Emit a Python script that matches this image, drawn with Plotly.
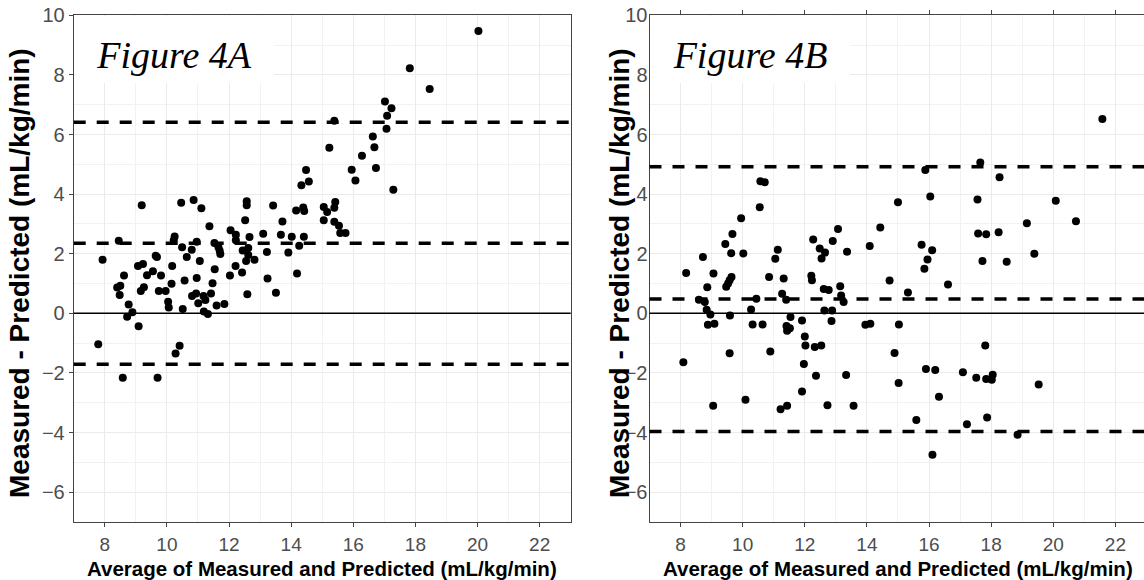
import plotly.graph_objects as go

W, H = 1144, 580

# ---------------- data ----------------
# Figure 4A : average of measured & predicted vs difference
a_avg = [9.19, 10.46, 10.86, 11.11, 12.57, 12.57, 12.52, 11.37, 12.05, 12.22, 12.22, 12.66, 8.45,
         10.25, 10.22, 10.96, 11.53, 11.66, 11.70, 11.72, 10.49, 10.80, 10.64, 11.06, 12.44, 12.62,
         12.62, 12.55, 12.82, 7.93, 9.07, 9.23, 9.64, 9.68, 9.55, 9.36, 9.81, 10.17, 8.62, 8.40,
         8.48, 8.50, 9.26, 9.16, 9.74, 9.96, 10.15, 10.57, 10.96, 11.54, 12.03, 12.21, 12.42, 12.59,
         11.47, 11.42, 10.81, 10.94, 11.18, 11.24, 11.01, 10.04, 10.06, 10.51, 11.60, 11.85, 11.19,
         11.32, 8.77, 8.89, 8.72, 9.09, 7.79, 10.41, 10.28, 8.58, 9.70,
         18.46, 17.02, 17.23, 17.09, 17.07, 15.39, 16.63, 16.68, 15.23, 16.28, 16.73, 15.95, 16.07,
         17.29, 14.48, 14.57, 14.33, 13.42, 14.16, 14.39, 14.42, 15.05, 15.16, 15.42, 15.39, 15.05,
         15.39, 15.54, 15.58, 15.75, 13.72, 13.10, 13.67, 14.02, 14.41, 14.26, 13.22, 13.91, 14.19,
         13.24, 13.51, 20.03, 17.82]
a_diff = [3.63, 3.71, 3.80, 3.53, 3.76, 3.63, 3.12, 2.92, 2.79, 2.64, 2.45, 2.56, 2.44,
          2.58, 2.45, 2.40, 2.36, 2.22, 2.10, 1.99, 2.22, 2.13, 1.89, 1.76, 2.11, 2.19,
          1.96, 1.76, 1.80, 1.80, 1.59, 1.66, 1.93, 1.89, 1.41, 1.28, 1.27, 1.59, 1.27, 0.87,
          0.62, 0.93, 0.88, 0.75, 0.75, 0.75, 0.99, 1.10, 1.19, 1.48, 1.27, 1.59, 1.37, 0.64,
          1.01, 0.67, 0.58, 0.67, 0.58, 0.45, 0.34, 0.39, 0.20, 0.15, 0.26, 0.31, 0.06,
          -0.02, 0.30, 0.04, -0.11, -0.43, -1.04, -1.09, -1.35, -2.16, -2.16,
          7.53, 7.11, 6.88, 6.63, 6.19, 6.46, 5.93, 5.57, 5.56, 5.29, 4.88, 4.82, 4.46,
          4.15, 4.81, 4.42, 4.30, 3.62, 3.45, 3.55, 3.43, 3.57, 3.40, 3.74, 3.54, 3.12,
          3.07, 2.94, 2.70, 2.70, 3.08, 2.67, 2.64, 2.57, 2.57, 2.27, 2.06, 2.04, 1.34,
          1.17, 0.69, 9.47, 8.22]

# Figure 4B
b_avg = [10.57, 10.71, 10.55, 9.95, 9.67, 9.44, 9.63, 10.02, 8.72, 8.18, 9.06, 8.86, 8.59, 8.78,
         8.84, 8.96, 8.88, 9.09, 9.47, 9.53, 9.58, 9.64, 9.59, 10.27, 10.44, 10.32, 10.64, 10.85,
         11.05, 11.13, 11.32, 11.27, 11.40, 11.54, 11.41, 11.52, 11.43, 11.91, 12.27, 12.48, 12.65,
         12.54, 12.90, 13.07, 12.21, 12.23, 12.61, 12.77, 13.14, 13.17, 13.25, 12.63, 12.88, 12.86,
         13.36, 14.09, 14.43, 15.00, 14.73, 15.32, 13.95, 14.11, 15.03,
         12.00, 12.02, 12.32, 12.53, 9.58, 10.89, 8.09, 11.97, 12.36, 13.33, 11.91, 10.09, 9.05,
         11.22, 11.43, 12.73, 13.57, 14.89, 15.02, 15.59, 15.90, 16.20, 16.32, 16.11, 17.09, 17.52,
         17.22,
         16.04, 17.56, 20.08, 19.15, 20.73, 17.58, 17.84, 18.24, 15.76, 16.10, 15.95, 15.85, 17.72,
         18.50, 19.39, 16.61, 17.81, 17.84, 18.02, 18.05, 19.53, 17.87, 18.85,
         21.58, 17.65, 15.88, 18.27]
b_diff = [4.43, 4.40, 3.56, 3.19, 2.66, 2.33, 2.02, 2.01, 1.89, 1.35, 1.34, 0.88, 0.46, 0.38,
          0.12, -0.04, -0.38, -0.35, 0.89, 1.00, 1.11, 1.22, -0.07, 0.13, 0.49, -0.37, -0.37, 1.22,
          1.83, 2.13, 1.17, 0.66, 0.46, -0.12, -0.42, -0.50, -0.58, -0.24, 2.48, 2.18, 2.04,
          1.84, 2.43, 2.83, 1.26, 1.11, 0.82, 0.78, 0.91, 0.60, 0.38, 0.10, 0.10, -0.26,
          2.07, 2.26, 2.88, 3.73, 1.10, 0.70, -0.38, -0.35, -0.37,
          -0.78, -1.08, -1.13, -1.08, -1.34, -1.28, -1.64, -1.70, -2.09, -2.07, -2.62, -2.90, -3.10,
          -3.22, -3.10, -3.08, -3.10, -1.33, -2.34, -3.58, -1.87, -1.90, -2.80, -4.74, -1.98, -2.16,
          -3.72,
          3.92, 3.82, 3.78, 3.02, 3.09, 2.68, 2.65, 2.72, 2.30, 2.12, 1.81, 1.50, 1.76,
          1.73, 2.00, 0.97, -1.08, -2.20, -2.23, -2.06, -2.39, -3.49, -4.07,
          6.52, 5.06, 4.81, 4.57]

# limits of agreement (upper, mean, lower)
a_loa = [6.41, 2.35, -1.71]
b_loa = [4.92, 0.48, -3.96]

x_ticks = [8, 10, 12, 14, 16, 18, 20, 22]
y_ticks = [-6, -4, -2, 0, 2, 4, 6, 8, 10]
x_range = [7, 23]
y_range = [-7, 10]
panel_labels = ["Figure 4A", "Figure 4B"]
x_title = "Average of Measured and Predicted (mL/kg/min)"
y_title = "Measured - Predicted (mL/kg/min)"

# ---------------- layout geometry (pixels) ----------------
def fx(p):
    return p / W

def fy(p):
    return 1 - p / H

px_per_x = 31.06
A_left, A_right = 73.7, 570.7
B_left = 649.5
B_right_val = x_range[0] + (W - B_left) / px_per_x
P_top, P_bot = 15.3, 522.0

SANS = "Liberation Sans, Arial, sans-serif"
SERIF = "Liberation Serif, Times New Roman, serif"
GRID = "#ebebeb"
BORDER = "#444444"
TICKC = "#4d4d4d"

fig = go.Figure()
fig.add_trace(go.Scatter(x=a_avg, y=a_diff, mode="markers", xaxis="x", yaxis="y",
                         marker=dict(color="black", size=8), showlegend=False))
fig.add_trace(go.Scatter(x=b_avg, y=b_diff, mode="markers", xaxis="x2", yaxis="y2",
                         marker=dict(color="black", size=8), showlegend=False))

def xaxis_cfg(domain, rng, mirror):
    return dict(domain=domain, range=rng, tickvals=x_ticks, ticks="outside", ticklen=4,
                tickcolor=BORDER, tickwidth=1, showline=True, mirror=mirror, linecolor=BORDER,
                linewidth=1, showgrid=True, gridcolor=GRID, gridwidth=1.2, zeroline=False,
                automargin=False, ticklabelstandoff=1,
                tickfont=dict(family=SANS, size=19, color=TICKC),
                minor=dict(dtick=1, tick0=0, showgrid=True, gridcolor="#f2f2f2", gridwidth=1),
                fixedrange=True)

def yaxis_cfg(domain, anchor, mirror, ticks, standoff):
    return dict(domain=domain, range=y_range, anchor=anchor, tickvals=y_ticks, ticks=ticks,
                ticklen=4, tickcolor=BORDER, tickwidth=1, showline=True, mirror=mirror,
                linecolor=BORDER, linewidth=1, showgrid=True, gridcolor=GRID, gridwidth=1.2,
                zeroline=False, automargin=False, ticklabelstandoff=standoff,
                tickfont=dict(family=SANS, size=20, color=TICKC),
                minor=dict(dtick=1, tick0=0, showgrid=True, gridcolor="#f2f2f2", gridwidth=1),
                fixedrange=True)

ydom = [fy(P_bot), fy(P_top)]
fig.update_layout(
    template="none",
    width=W, height=H, margin=dict(l=0, r=0, t=0, b=0, autoexpand=False),
    paper_bgcolor="white", plot_bgcolor="white", showlegend=False,
    xaxis=xaxis_cfg([fx(A_left), fx(A_right)], x_range, True) | dict(anchor="y"),
    yaxis=yaxis_cfg(ydom, "x", True, "outside", 0),
    xaxis2=xaxis_cfg([fx(B_left), 1.0], [x_range[0], B_right_val], "allticks") | dict(anchor="y2"),
    yaxis2=yaxis_cfg(ydom, "x2", False, "", -3),
)

shapes = []
for xr, yr, loa in [("x domain", "y", a_loa), ("x2 domain", "y2", b_loa)]:
    shapes.append(dict(type="line", xref=xr, yref=yr, x0=0, x1=1, y0=0, y1=0,
                       line=dict(color="black", width=1.5)))
    for v in loa:
        shapes.append(dict(type="line", xref=xr, yref=yr, x0=0, x1=1, y0=v, y1=v,
                           line=dict(color="black", width=3.5, dash="12px,11px")))
fig.update_layout(shapes=shapes)

ann = []
# panel labels with white box
for label, cx in [(panel_labels[0], (A_left + 275) / 2), (panel_labels[1], (B_left + 851) / 2)]:
    ann.append(dict(text="<i>" + label + "</i>", xref="paper", yref="paper", x=fx(cx),
                    y=fy(55),
                    xanchor="center", yanchor="middle", showarrow=False, width=200, height=56,
                    bgcolor="white", borderpad=0, borderwidth=0,
                    font=dict(family=SERIF, size=38, color="black")))
# white box top part (keeps grid hidden up to the panel border)
for cx in [(A_left + 275) / 2, (B_left + 851) / 2]:
    ann.append(dict(text=" ", xref="paper", yref="paper", x=fx(cx), y=fy(22),
                    xanchor="center", yanchor="middle", showarrow=False, width=200, height=12,
                    bgcolor="white", borderpad=0, borderwidth=0,
                    font=dict(family=SANS, size=8, color="white")))
# axis titles
for cx in [(A_left + A_right) / 2, B_left + 248.5]:
    ann.append(dict(text="<b>" + x_title + "</b>", xref="paper", yref="paper", x=fx(cx),
                    y=fy(568), xanchor="center", yanchor="middle", showarrow=False,
                    font=dict(family=SANS, size=20.5, color="black")))
for cx in [19, 619]:
    ann.append(dict(text="<b>" + y_title + "</b>", xref="paper", yref="paper", x=fx(cx),
                    y=fy(273), xanchor="center", yanchor="middle",
                    showarrow=False, textangle=-90,
                    font=dict(family=SANS, size=28, color="black")))
fig.update_layout(annotations=ann)

fig.write_html("out.html")
